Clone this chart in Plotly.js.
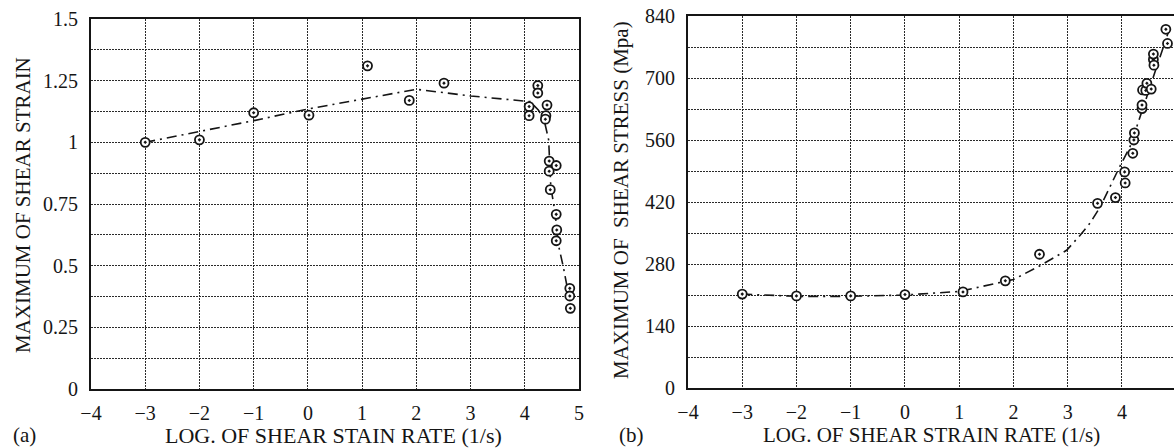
<!DOCTYPE html>
<html>
<head>
<meta charset="utf-8">
<script src="https://cdn.plot.ly/plotly-3.0.1.min.js"></script>
<style>
  html, body { margin: 0; padding: 0; background: #fff; }
  #chart { width: 1174px; height: 448px; }
</style>
</head>
<body>
<div id="chart"></div>
<script>
// (a) maximum shear strain vs log shear strain rate
const rateA = [-3, -2, -1, 0.02, 1.1, 1.87, 2.51, 4.08, 4.08, 4.24, 4.24, 4.41, 4.39, 4.38, 4.45, 4.45, 4.58, 4.47, 4.58, 4.59, 4.58, 4.83, 4.83, 4.84];
const strainA = [1.0, 1.01, 1.12, 1.11, 1.31, 1.17, 1.24, 1.145, 1.108, 1.23, 1.2, 1.151, 1.108, 1.094, 0.924, 0.883, 0.906, 0.808, 0.708, 0.645, 0.601, 0.408, 0.377, 0.327];
const fitRateA = [-3, -2, -1, 0, 1, 2, 3, 4, 4.1, 4.25, 4.35, 4.44, 4.48, 4.56, 4.62, 4.71, 4.78, 4.84];
const fitStrainA = [1.0, 1.043, 1.088, 1.135, 1.175, 1.215, 1.188, 1.168, 1.165, 1.131, 1.097, 1.01, 0.82, 0.713, 0.584, 0.496, 0.415, 0.37];

// (b) maximum shear stress vs log shear strain rate
const rateB = [-3, -2, -1, 0, 1.07, 1.85, 2.48, 3.55, 3.88, 4.05, 4.06, 4.2, 4.22, 4.23, 4.37, 4.37, 4.38, 4.44, 4.46, 4.54, 4.58, 4.58, 4.59, 4.81, 4.84];
const stressB = [212, 208, 208, 211, 217, 242, 302, 417, 430, 488, 463, 530, 560, 576, 631, 639, 673, 672, 688, 675, 742, 754, 729, 810, 778];
const fitRateB = [-3, -2, -1, 0, 1, 2, 2.46, 2.98, 3.23, 3.41, 3.6, 3.78, 3.96, 4.15, 4.3, 4.46, 4.64, 4.8, 4.86];
const fitStressB = [212, 207, 207, 210, 218, 245, 274, 311, 345, 372, 409, 455, 500, 545, 598, 658, 725, 786, 805];

const xTicks = [-4, -3, -2, -1, 0, 1, 2, 3, 4, 5];
const strainTicks = [0, 0.25, 0.5, 0.75, 1, 1.25, 1.5];
const stressTicks = [0, 140, 280, 420, 560, 700, 840];

const W = 1174, H = 448;
const serif = 'Liberation Serif, Times New Roman, serif';
const ink = '#151515';

const markerStyle = {
  symbol: 'circle-dot', size: 9, color: '#fff',
  line: { color: ink, width: 1.8 }
};
const fitLine = { color: ink, width: 1.6, dash: '10px,5px,2px,5px' };

const traces = [
  { x: fitRateA, y: fitStrainA, xaxis: 'x', yaxis: 'y', mode: 'lines', line: fitLine, hoverinfo: 'skip' },
  { x: rateA, y: strainA, xaxis: 'x', yaxis: 'y', mode: 'markers', marker: markerStyle },
  { x: fitRateB, y: fitStressB, xaxis: 'x2', yaxis: 'y2', mode: 'lines', line: fitLine, hoverinfo: 'skip' },
  { x: rateB, y: stressB, xaxis: 'x2', yaxis: 'y2', mode: 'markers', marker: markerStyle }
];

const gridStyle = { gridcolor: '#2a2a2a', gridwidth: 1, griddash: '2px,1px' };
const axisBase = Object.assign({
  showline: true, mirror: true, linecolor: ink, linewidth: 2,
  zeroline: false, ticks: '', showgrid: true,
  tickfont: { family: serif, size: 20, color: ink },
  fixedrange: true
}, gridStyle);

const px = v => v / W;
const py = v => 1 - v / H;
const titleFont = { family: serif, size: 21, color: ink };

const layout = {
  width: W, height: H,
  margin: { l: 0, r: 0, t: 0, b: 0 },
  paper_bgcolor: '#fff', plot_bgcolor: '#fff',
  showlegend: false,
  font: { family: serif, color: ink },
  xaxis: Object.assign({}, axisBase, {
    domain: [px(91), px(579)], range: [-4, 5],
    tickvals: xTicks, ticklabelstandoff: 5, anchor: 'y'
  }),
  yaxis: Object.assign({}, axisBase, {
    domain: [py(389), py(19)], range: [0, 1.5],
    tickvals: strainTicks, ticklabelstandoff: 7, anchor: 'x',
    minor: Object.assign({ dtick: 0.125, showgrid: true, ticks: '' }, gridStyle)
  }),
  xaxis2: Object.assign({}, axisBase, {
    domain: [px(688), 1], range: [-4, 4.96],
    tickvals: xTicks, ticklabelstandoff: 5, anchor: 'y2'
  }),
  yaxis2: Object.assign({}, axisBase, {
    domain: [py(388), py(16)], range: [0, 840],
    tickvals: stressTicks, ticklabelstandoff: 7, anchor: 'x2',
    minor: Object.assign({ dtick: 70, showgrid: true, ticks: '' }, gridStyle)
  }),
  annotations: [
    { text: 'LOG. OF SHEAR STAIN RATE (1/s)', xref: 'paper', yref: 'paper', x: px(333), y: py(435),
      xanchor: 'center', yanchor: 'middle', showarrow: false, font: { family: serif, size: 22, color: ink } },
    { text: 'LOG. OF SHEAR STRAIN RATE (1/s)', xref: 'paper', yref: 'paper', x: px(931), y: py(435),
      xanchor: 'center', yanchor: 'middle', showarrow: false, font: titleFont },
    { text: '(a)', xref: 'paper', yref: 'paper', x: px(24), y: py(435),
      xanchor: 'center', yanchor: 'middle', showarrow: false, font: titleFont },
    { text: '(b)', xref: 'paper', yref: 'paper', x: px(631), y: py(435),
      xanchor: 'center', yanchor: 'middle', showarrow: false, font: titleFont },
    { text: 'MAXIMUM OF SHEAR STRAIN', xref: 'paper', yref: 'paper', x: px(23), y: py(205),
      xanchor: 'center', yanchor: 'middle', textangle: -90, showarrow: false, font: titleFont },
    { text: 'MAXIMUM OF  SHEAR STRESS (Mpa)', xref: 'paper', yref: 'paper', x: px(621), y: py(200),
      xanchor: 'center', yanchor: 'middle', textangle: -90, showarrow: false, font: titleFont },
    { text: '5', xref: 'x2', yref: 'paper', x: 5, y: py(407),
      xanchor: 'center', yanchor: 'middle', showarrow: false, font: { family: serif, size: 20, color: ink } }
  ]
};

Plotly.newPlot('chart', traces, layout, { staticPlot: true, displayModeBar: false });
</script>
</body>
</html>
